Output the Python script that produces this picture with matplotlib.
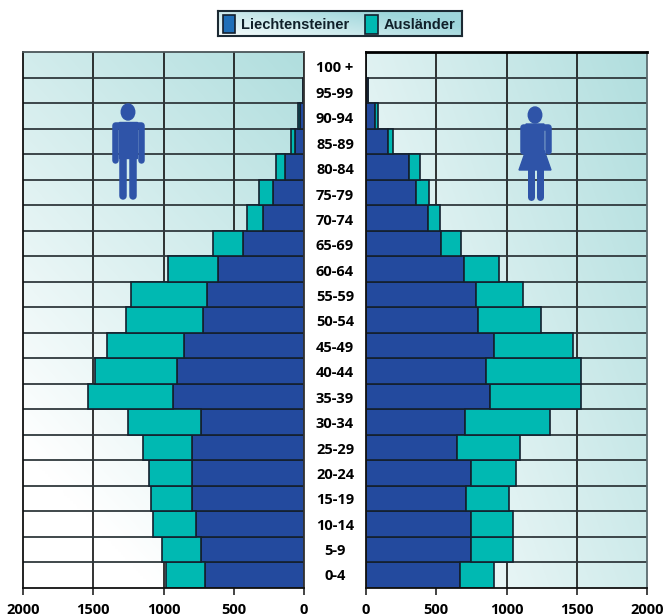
import numpy as np
import matplotlib
matplotlib.use('Agg')
import matplotlib.pyplot as plt
from matplotlib.patches import Rectangle, Ellipse, Polygon

# age groups, youngest first
ages = ['0-4', '5-9', '10-14', '15-19', '20-24', '25-29', '30-34', '35-39', '40-44', '45-49',
        '50-54', '55-59', '60-64', '65-69', '70-74', '75-79', '80-84', '85-89', '90-94', '95-99', '100 +']

men_li = [705, 733, 769, 797, 797, 797, 733, 932, 904, 854,
          719, 690, 612, 434, 292, 221, 135, 64, 28, 4, 0]
men_au = [277, 277, 306, 292, 306, 349, 520, 605, 583, 548,
          548, 541, 356, 214, 114, 99, 64, 29, 15, 0, 0]
women_li = [669, 747, 747, 712, 747, 648, 705, 883, 854, 911,
            797, 783, 697, 534, 441, 356, 306, 157, 64, 14, 0]
women_au = [242, 299, 299, 306, 321, 448, 605, 647, 676, 562,
            449, 334, 250, 142, 86, 92, 78, 35, 21, 0, 0]

ticks = [0, 500, 1000, 1500, 2000]

BLUE = '#234a9e'
TEAL = '#00b9b2'
EDGE = '#14202e'
W, H = 665, 616
LABEL_FONT = ['Open Sans', 'DejaVu Sans']

fig = plt.figure(figsize=(W / 100, H / 100), dpi=100)


def make_axes(x0, x1, y0, y1):
    return fig.add_axes([x0 / W, 1 - y1 / H, (x1 - x0) / W, (y1 - y0) / H])


def gradient(ax, c0, c1, wx, wy, off=0.0, zorder=0):
    # diagonal fade from c0 (bottom left) to c1 (top right)
    u, v = np.meshgrid(np.linspace(0, 1, 200), np.linspace(0, 1, 200))
    t = np.clip((u * wx + v * wy + off)[..., None], 0, 1)
    img = np.array(c0) * (1 - t) + np.array(c1) * t
    ax.imshow(img, origin='lower', extent=(0, 1, 0, 1), transform=ax.transAxes,
              aspect='auto', zorder=zorder, interpolation='bilinear')


def panel(ax, li, au, wx, wy, off, inverted):
    y = np.arange(len(ages))
    gradient(ax, (1, 1, 1), (0.69, 0.87, 0.87), wx, wy, off)
    ax.barh(y, li, height=1, color=BLUE, edgecolor=EDGE, linewidth=1.2, zorder=3)
    ax.barh(y, au, left=li, height=1, color=TEAL, edgecolor=EDGE, linewidth=1.2, zorder=3)
    ax.set_xlim((2000, 0) if inverted else (0, 2000))
    ax.set_ylim(-0.5, len(ages) - 0.5)
    for v in ticks[1:-1]:
        ax.axvline(v, color='#111111', linewidth=1.2, zorder=1)
    for v in y[:-1]:
        ax.axhline(v + 0.5, color='#30393d', linewidth=1.3, zorder=1)
    ax.set_yticks([])
    ax.set_xticks(ticks)
    ax.tick_params(axis='x', length=5, width=1.2, color='#222222', pad=6)
    for lab in ax.get_xticklabels():
        lab.set_fontfamily(LABEL_FONT)
        lab.set_fontweight('bold')
        lab.set_fontsize(10.5)
    for s in ax.spines.values():
        s.set_linewidth(1.3)
        s.set_color('#111111')
        s.set_zorder(5)


ax_m = make_axes(23, 304, 52, 588)
panel(ax_m, men_li, men_au, 0.43, 0.77, -0.2, True)
ax_m.spines['top'].set_color('#4a5558')
ax_m.spines['right'].set_color('#333333')
ax_w = make_axes(366, 647, 52, 588)
panel(ax_w, women_li, women_au, 0.6, 0.4, 0.0, False)
ax_w.spines['top'].set_linewidth(2)
ax_w.spines['top'].set_color('black')
ax_w.spines['right'].set_color('#5a6a6e')

# overlay in pixel coordinates for the legend, age labels and the two icons
ov = fig.add_axes([0, 0, 1, 1], zorder=10)
ov.set_xlim(0, W)
ov.set_ylim(H, 0)
ov.axis('off')
ov.patch.set_alpha(0)

for i, a in enumerate(ages):
    ov.text(335, 576.5 - i * 25.4, a, ha='center', va='center', fontsize=10.5,
            fontweight='bold', family=LABEL_FONT, color='black')

# legend box with its own gradient
leg = make_axes(218, 462, 11, 36)
leg.set_zorder(11)
gradient(leg, (0.97, 0.99, 0.99), (0.62, 0.84, 0.86), 0.8, 0.5)
leg.set_xlim(218, 462)
leg.set_ylim(36, 11)
leg.set_xticks([])
leg.set_yticks([])
for s in leg.spines.values():
    s.set_linewidth(1.5)
    s.set_color('#1c2a33')
leg.add_patch(Rectangle((222.5, 15), 12, 18, facecolor='#1f6fb8', edgecolor=EDGE, linewidth=1.2))
leg.add_patch(Rectangle((364.5, 14.5), 13.5, 19, facecolor=TEAL, edgecolor=EDGE, linewidth=1.2))
leg.text(241, 25, 'Liechtensteiner', ha='left', va='center', fontsize=10.5,
         fontweight='bold', family='Liberation Sans', color='#10202a')
leg.text(384, 25, 'Ausländer', ha='left', va='center', fontsize=10.5,
         fontweight='bold', family='Liberation Sans', color='#10202a')

ICON = '#2f54a8'


def stroke(xs, ys, width):
    ov.plot(xs, ys, color=ICON, linewidth=width * 0.72, solid_capstyle='round',
            solid_joinstyle='round', zorder=12)


# man
ov.add_patch(Ellipse((128, 112), 13.5, 16, color=ICON, zorder=12))
ov.add_patch(Rectangle((119, 122), 18, 36, color=ICON, zorder=12))
stroke([115, 115, 140.5, 140.5], [159.5, 125, 125, 159.5], 6.5)
stroke([123, 123], [150, 195.5], 7.5)
stroke([133, 133], [150, 195.5], 7.5)

# woman
ov.add_patch(Ellipse((535, 115), 13.5, 16, color=ICON, zorder=12))
ov.add_patch(Polygon([(526, 124), (544, 124), (544, 150), (551, 170), (519, 170), (526, 150)],
                     closed=True, color=ICON, zorder=12))
stroke([522.5, 522.5, 548, 548], [150.5, 127, 127, 150.5], 6.5)
stroke([530.5, 530.5], [165, 197], 7)
stroke([540, 540], [165, 197], 7)

fig.savefig('out.png', dpi=100)
